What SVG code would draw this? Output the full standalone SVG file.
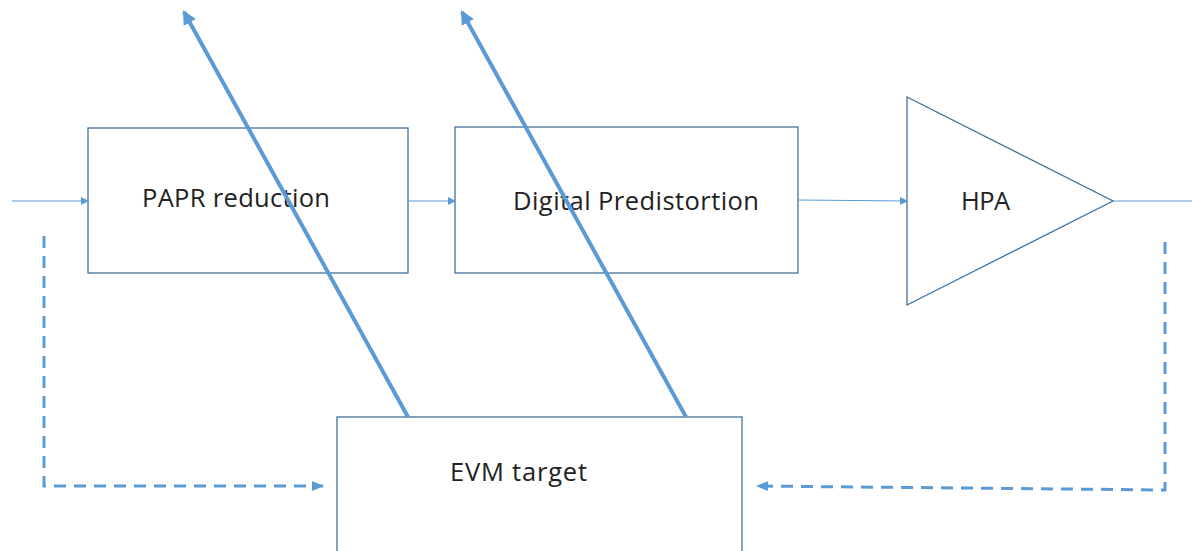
<svg xmlns="http://www.w3.org/2000/svg" width="1192" height="551" viewBox="0 0 1192 551">
<style>
.box{fill:#fff;stroke:#41719C;stroke-width:1.3}
.lbl{font-family:"Open Sans","Liberation Sans",sans-serif;font-size:25.5px;fill:#222}
.thin{stroke:#5B9BD5;stroke-width:1.2;fill:none}
.thick{stroke:#5B9BD5;stroke-width:4;fill:none}
.dash{stroke:#5B9BD5;stroke-width:3;fill:none;stroke-dasharray:12 8}
</style>
<defs>
<marker id="a" markerWidth="8" markerHeight="8" refX="7" refY="4" orient="auto" markerUnits="userSpaceOnUse"><path d="M0,0 L8,4 L0,8 Z" fill="#5B9BD5"/></marker>
<marker id="b" markerWidth="14" markerHeight="14" refX="12" refY="7" orient="auto" markerUnits="userSpaceOnUse"><path d="M0,0 L14,7 L0,14 Z" fill="#5B9BD5"/></marker>
<marker id="c" markerWidth="12" markerHeight="12" refX="11" refY="6" orient="auto" markerUnits="userSpaceOnUse"><path d="M0,1 L12,6 L0,11 Z" fill="#5B9BD5"/></marker>
</defs>
<g id="papr"><rect class="box" x="88" y="128" width="320" height="145"/><text class="lbl" x="142" y="207" textLength="188">PAPR reduction</text></g>
<g id="dpd"><rect class="box" x="455" y="127" width="343" height="146"/><text class="lbl" x="513" y="210" textLength="246">Digital Predistortion</text></g>
<g id="hpa"><polygon class="box" points="907,97 907,305 1113,201"/><text class="lbl" x="961" y="210" textLength="49">HPA</text></g>
<g id="evm"><rect class="box" x="337" y="417" width="405" height="150"/><text class="lbl" x="450" y="481" textLength="137">EVM target</text></g>
<g id="connectors">
<line class="thin" x1="12" y1="201" x2="88" y2="201" marker-end="url(#a)"/>
<line class="thin" x1="408" y1="201" x2="455" y2="201" marker-end="url(#a)"/>
<line class="thin" x1="798" y1="200" x2="907" y2="201" marker-end="url(#a)"/>
<line class="thin" x1="1113" y1="201" x2="1192" y2="201"/>
<line class="thick" x1="408" y1="417" x2="184" y2="12" marker-end="url(#b)"/>
<line class="thick" x1="686" y1="417" x2="462" y2="12" marker-end="url(#b)"/>
<polyline class="dash" points="44,236 44,486 323,486" marker-end="url(#c)"/>
<polyline class="dash" points="1165,242 1165,490 757,486" marker-end="url(#c)"/>
</g>
</svg>
